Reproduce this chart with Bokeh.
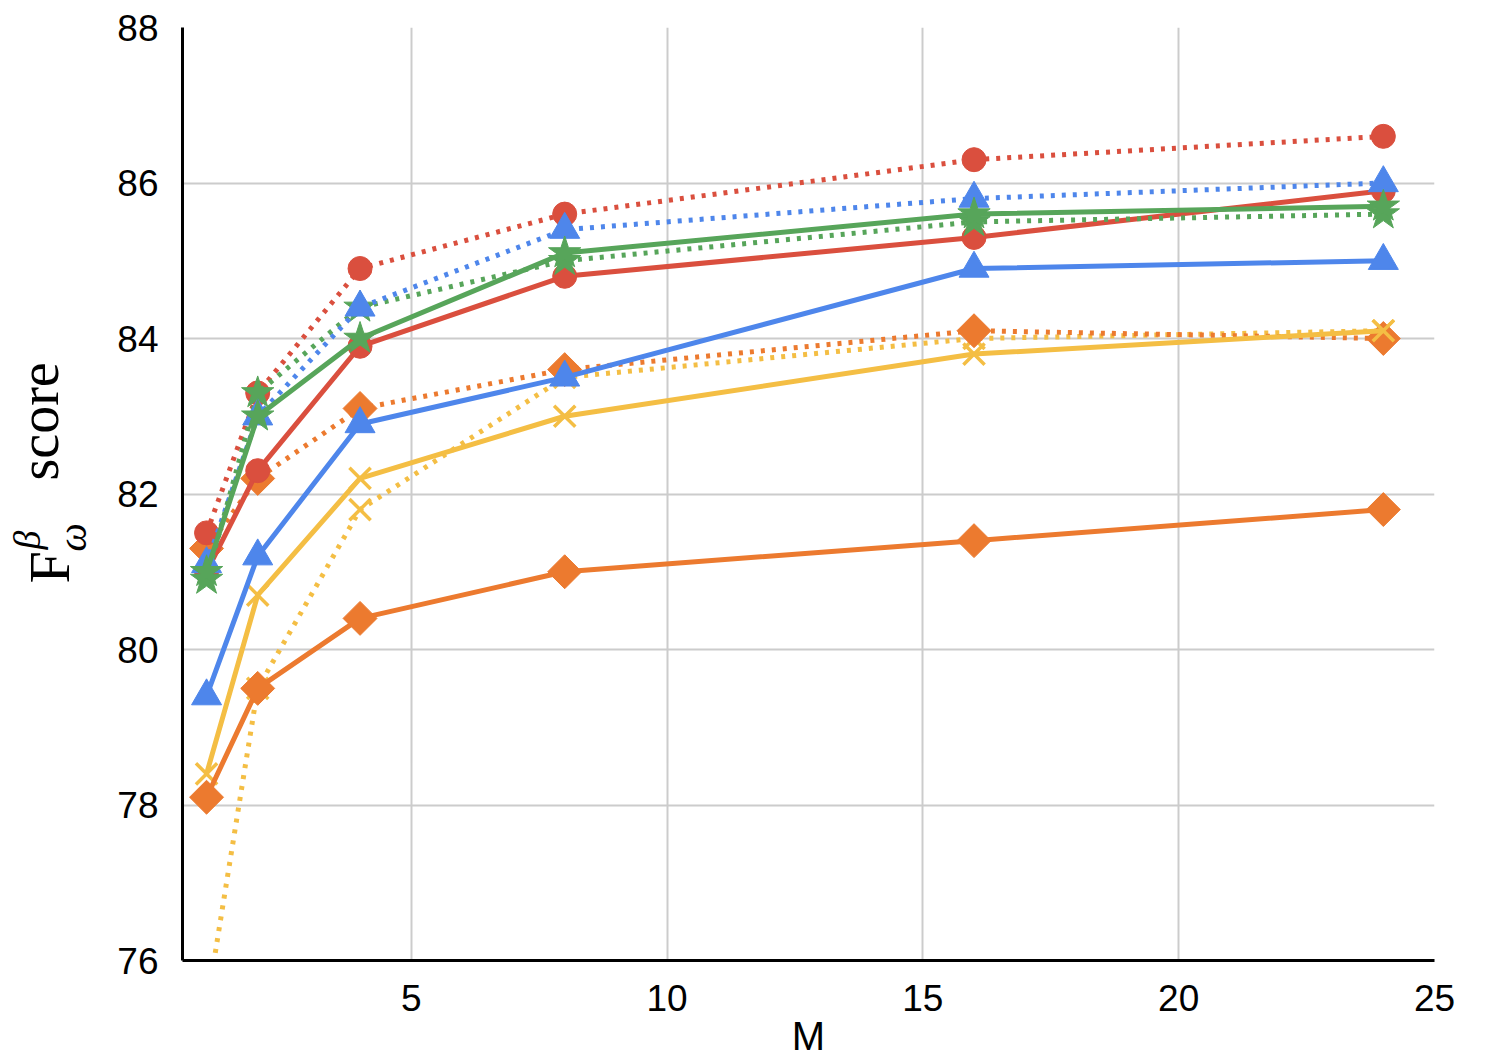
import math
from bokeh.plotting import figure
from bokeh.layouts import row
from bokeh.models import FixedTicker
from bokeh.core.properties import value
from bokeh.embed import file_html
from bokeh.resources import INLINE

# ---- data ----
m_values = [1, 2, 4, 8, 16, 24]

red_solid = [81.0, 82.3, 83.9, 84.8, 85.3, 85.9]
red_dotted = [81.5, 83.3, 84.9, 85.6, 86.3, 86.6]
blue_solid = [79.4, 81.2, 82.9, 83.5, 84.9, 85.0]
blue_dotted = [81.1, 83.0, 84.4, 85.4, 85.8, 86.0]
green_solid = [81.0, 83.0, 84.0, 85.1, 85.6, 85.7]
green_dotted = [80.9, 83.3, 84.4, 85.0, 85.5, 85.6]
orange_solid = [78.1, 79.5, 80.4, 81.0, 81.4, 81.8]
orange_dotted = [81.3, 82.2, 83.1, 83.6, 84.1, 84.0]
yellow_solid = [78.4, 80.7, 82.2, 83.0, 83.8, 84.1]
yellow_dotted = [75.4, 79.5, 81.8, 83.5, 84.0, 84.1]

x_ticks = [5, 10, 15, 20, 25]
y_ticks = [76, 78, 80, 82, 84, 86, 88]

title_parts = ["F", "β", "ω", "score"]

RED = "#DA4F3E"
BLUE = "#4E86EB"
GREEN = "#57A55A"
ORANGE = "#EC7A2F"
YELLOW = "#F4BE44"

H = 1058
LEFT_W = 108

p = figure(
    frame_width=1252, frame_height=933,
    x_range=(0.53, 25), y_range=(76, 88),
    output_backend="svg", toolbar_location=None,
    min_border_left=182 - LEFT_W, min_border_right=34,
    min_border_top=27, min_border_bottom=H - 27 - 933,
)
p.outline_line_color = None
p.background_fill_color = "white"

for ax in (p.xaxis, p.yaxis):
    ax.major_tick_line_color = None
    ax.minor_tick_line_color = None
    ax.axis_line_color = "black"
    ax.axis_line_width = 3
    ax.major_label_text_font = "Liberation Sans"
    ax.major_label_text_font_size = "37px"
    ax.major_label_text_color = "black"

p.xaxis.ticker = FixedTicker(ticks=x_ticks)
p.yaxis.ticker = FixedTicker(ticks=y_ticks)
p.xaxis.major_label_standoff = 18
p.yaxis.major_label_standoff = 18
p.xaxis.axis_label = "M"
p.xaxis.axis_label_text_font = "Liberation Sans"
p.xaxis.axis_label_text_font_style = "normal"
p.xaxis.axis_label_text_font_size = "40px"
p.xaxis.axis_label_standoff = 0
p.xaxis.axis_label_text_color = "black"

p.xgrid.ticker = FixedTicker(ticks=x_ticks)
p.ygrid.ticker = FixedTicker(ticks=y_ticks)
for g in (p.xgrid, p.ygrid):
    g.grid_line_color = "#CCCCCC"
    g.grid_line_width = 2

DOT = "4 7"
LW = 5

def series(vals, color, dotted, marker):
    if dotted:
        p.line(m_values, vals, line_color=color, line_width=LW, line_dash=DOT)
    else:
        p.line(m_values, vals, line_color=color, line_width=LW)
    if marker == "circle":
        p.scatter(m_values, vals, marker="circle", size=24, fill_color=color, line_color=color)
    elif marker == "triangle":
        p.scatter(m_values, vals, marker="triangle", size=30, fill_color=color, line_color=color)
    elif marker == "star":
        p.scatter(m_values, vals, marker="star", size=34, fill_color=color, line_color=color)
    elif marker == "diamond":
        p.scatter(m_values, vals, marker="square", size=24, angle=math.pi / 4,
                  fill_color=color, line_color=color)
    elif marker == "x":
        p.scatter(m_values, vals, marker="x", size=30, line_color=color, line_width=3.5)

series(yellow_dotted, YELLOW, True, "x")
series(orange_dotted, ORANGE, True, "diamond")
series(yellow_solid, YELLOW, False, "x")
series(orange_solid, ORANGE, False, "diamond")
series(red_solid, RED, False, "circle")
series(red_dotted, RED, True, "circle")
series(green_dotted, GREEN, True, "star")
series(blue_dotted, BLUE, True, "triangle")
series(blue_solid, BLUE, False, "triangle")
series(green_solid, GREEN, False, "star")

# ---- left strip holding the y axis title (F_omega^beta score) ----
t = figure(
    frame_width=LEFT_W, frame_height=H,
    x_range=(0, LEFT_W), y_range=(0, H),
    output_backend="svg", toolbar_location=None,
    min_border=0, min_border_left=0, min_border_right=0,
    min_border_top=0, min_border_bottom=0,
)
t.axis.visible = False
t.grid.visible = False
t.outline_line_color = None

# anchor positions in page pixels
part_x = [49, 26, 72, 38]
part_y = [556, 522, 524, 453]
part_size = ["58px", "38px", "40px", "56px"]
part_style = ["normal", "italic", "italic", "normal"]
for txt, px, py, fs, st in zip(title_parts, part_x, part_y, part_size, part_style):
    t.text(x=[px], y=[H - py], text=[txt], angle=math.pi / 2,
           text_font=value("Liberation Serif"), text_font_size=fs,
           text_font_style=st, text_align="left", text_baseline="alphabetic",
           text_color="black")

layout = row(t, p, spacing=0)
open("out.html", "w").write(file_html(layout, INLINE))
